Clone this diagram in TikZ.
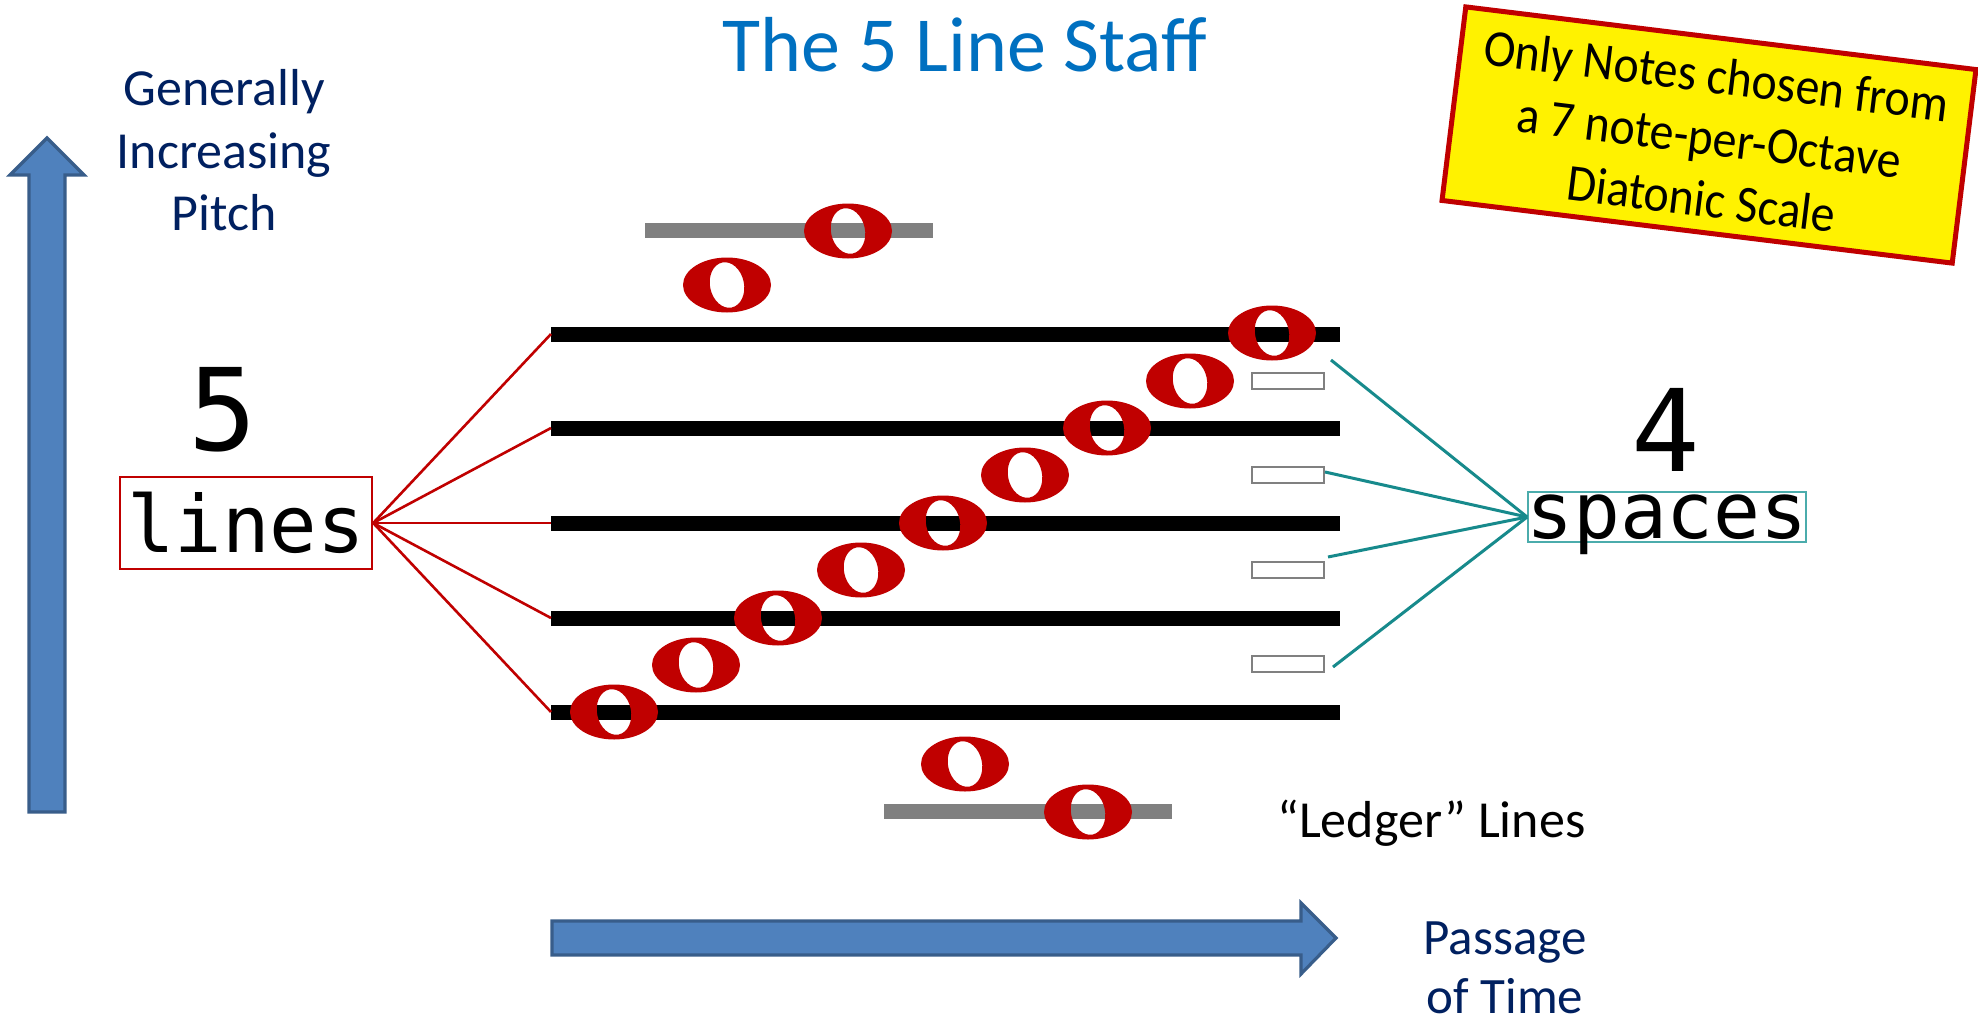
\documentclass[tikz,border=0pt]{standalone}
\usepackage{fontspec}
\setmainfont{Carlito}
\newfontfamily\monof{DejaVu Sans Mono}
\definecolor{notered}{RGB}{192,0,0}
\definecolor{arrowblue}{RGB}{79,129,189}
\definecolor{arrowedge}{RGB}{56,93,138}
\definecolor{titleblue}{RGB}{0,112,192}
\definecolor{navytext}{RGB}{0,32,96}
\definecolor{tealline}{RGB}{23,138,140}
\definecolor{tealbox}{RGB}{75,172,172}
\definecolor{ledgergray}{RGB}{128,128,128}
\newcommand{\wnote}[2]{%
  \fill[notered,even odd rule] (#1,#2) ellipse [x radius=44, y radius=27.5]
    (#1,#2) circle [x radius=17, y radius=23, rotate=12];}
\begin{document}
\begin{tikzpicture}[x=0.5pt,y=-0.5pt,
  bigarrow/.style={fill=arrowblue,draw=arrowedge,line width=1.6pt,line join=miter},
  staffline/.style={fill=black},
  ledgerline/.style={fill=ledgergray},
  spacemark/.style={draw=ledgergray,line width=0.9pt,fill=white},
  redlink/.style={draw=notered,line width=1.3pt},
  teallink/.style={draw=tealline,line width=1.5pt},
  calib/.style={font=\fontsize{26}{31}\selectfont},
  txt/.style={inner sep=0pt,anchor=base}]
\fill[white] (0,0) rectangle (1978,1023);
\useasboundingbox (0,0) rectangle (1978,1023);

% title
\node[txt,text=titleblue,font=\fontsize{39}{46}\selectfont] (title) at (965,71) {The 5 Line Staff};

% pitch arrow and label
\draw[bigarrow] (29,812) -- (29,175) -- (10,175) -- (47,138) -- (84,175) -- (65,175) -- (65,812) -- cycle;
\node[txt,calib,text=navytext] (pitchA) at (224,105) {Generally};
\node[txt,calib,text=navytext] (pitchB) at (224,168) {Increasing};
\node[txt,calib,text=navytext] (pitchC) at (224,230) {Pitch};

% time arrow and label
\draw[bigarrow] (552,921) -- (1301,921) -- (1301,903) -- (1336,938) -- (1301,974) -- (1301,955) -- (552,955) -- cycle;
\node[txt,font=\fontsize{25.5}{31}\selectfont,text=navytext] (timeA) at (1505,954) {Passage};
\node[txt,font=\fontsize{25.5}{31}\selectfont,text=navytext] (timeB) at (1505,1013) {of Time};

% yellow box
\node[draw=notered,line width=2.5pt,fill=yellow,rotate=-7,minimum width=257pt,minimum height=97.5pt,
  inner sep=0pt] (scalebox) at (1709,135) {};
\node[rotate=-7,xscale=0.92,align=center,inner sep=0pt,font=\fontsize{26}{31}\selectfont] (scaletxt) at (1709,137)
  {Only Notes chosen from\\a 7 note-per-Octave\\Diatonic Scale};

% staff lines
\foreach \y in {334,428,523,618,712} {\fill[staffline] (551,\y-7.5) rectangle (1340,\y+7.5);}
\coordinate (L1) at (551,334);
\coordinate (L2) at (551,428);
\coordinate (L3) at (551,523);
\coordinate (L4) at (551,618);
\coordinate (L5) at (551,712);

% ledger lines
\fill[ledgerline] (645,222.5) rectangle (933,237.5);
\fill[ledgerline] (884,803.5) rectangle (1172,818.5);
\node[inner sep=0pt,anchor=base west,calib] (ledgerlbl) at (1277,837) {“Ledger” Lines};

% space markers
\foreach \y in {381,475,570,664} {\draw[spacemark] (1252,\y-8) rectangle (1324,\y+8);}
\coordinate (S1) at (1331,360);
\coordinate (S2) at (1325,472);
\coordinate (S3) at (1328,557);
\coordinate (S4) at (1333,667);

% lines label
\node[txt,font=\monof\fontsize{57}{68}\selectfont] (five) at (223,450) {5};
\node[draw=notered,line width=1.2pt,minimum width=126pt,minimum height=46pt,inner sep=0pt,
  font=\monof\fontsize{39.5}{47}\selectfont] (linesbox) at (246,523) {lines};
\foreach \t in {L1,L2,L3,L4,L5} {\draw[redlink] (linesbox.east) -- (\t);}

% spaces label
\node[txt,font=\monof\fontsize{57}{68}\selectfont] (four) at (1666,471) {4};
\node[draw=tealbox,line width=0.9pt,minimum width=139pt,minimum height=25pt,inner sep=0pt] (spacesbox) at (1667,517) {};
\node[txt,font=\monof\fontsize{39}{47}\selectfont] (spacestxt) at (1667,538) {spaces};
\foreach \t in {S1,S2,S3,S4} {\draw[teallink] (spacesbox.west) -- (\t);}

% notes
\wnote{614}{712}
\wnote{696}{665}
\wnote{778}{618}
\wnote{861}{570}
\wnote{943}{523}
\wnote{1025}{475}
\wnote{1107}{428}
\wnote{1190}{381}
\wnote{1272}{333}
\wnote{727}{285}
\wnote{848}{231}
\wnote{965}{764}
\wnote{1088}{812}
\end{tikzpicture}
\end{document}
